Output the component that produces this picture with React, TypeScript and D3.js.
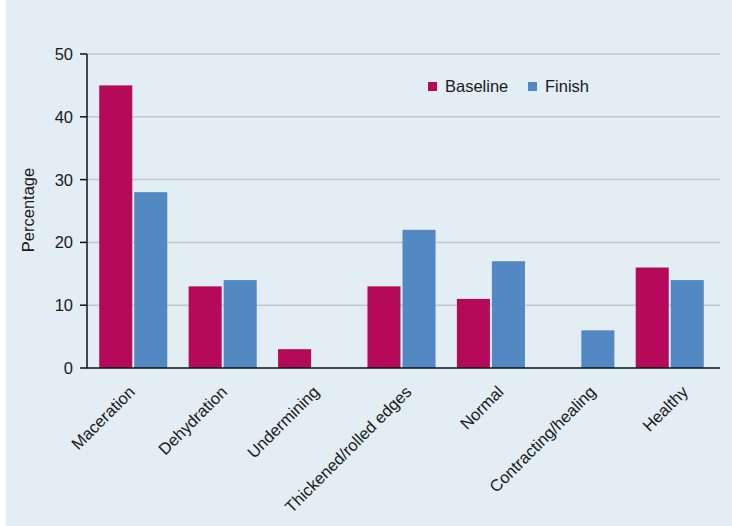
import React from "react";
import * as d3 from "d3";

const categories = [
  "Maceration",
  "Dehydration",
  "Undermining",
  "Thickened/rolled edges",
  "Normal",
  "Contracting/healing",
  "Healthy",
];
const seriesNames = ["Baseline", "Finish"];
const baseline = [45, 13, 3, 13, 11, 0, 16];
const finish = [28, 14, 0, 22, 17, 6, 14];
const yTicks = [0, 10, 20, 30, 40, 50];
const colors = ["#b5095a", "#5389c2"];

export default function App() {
  const W = 732;
  const H = 526;
  const x0 = 87;
  const x1 = 720;
  const yTop = 54;
  const yBot = 368;
  const font = "Liberation Sans, Arial, Helvetica, sans-serif";
  const fs = 16.5;

  const x = d3
    .scaleBand<string>()
    .domain(categories)
    .range([86, 717])
    .paddingInner(0.239)
    .paddingOuter(0.148);
  const xs = d3.scaleBand<string>().domain(seriesNames).range([0, x.bandwidth()]).paddingInner(0.057);
  const xl = d3.scalePoint<string>().domain(categories).range([136, 689]);
  const y = d3.scaleLinear().domain([0, 50]).range([yBot, yTop]);

  const data = categories.map((c, i) => ({ c, vals: [baseline[i], finish[i]] }));

  return (
    <svg width={W} height={H} style={{ position: "absolute", left: 0, top: 0 }} fontFamily={font}>
      <rect x={6} y={0} width={W - 6} height={H} fill="#e2edf4" />
      {yTicks.filter((t) => t > 0).map((t) => (
        <line key={"g" + t} x1={x0} x2={x1} y1={y(t)} y2={y(t)} stroke="#c4c8cc" strokeWidth={1.5} />
      ))}
      {data.map((d) =>
        d.vals.map((v, j) => (
          <rect
            key={d.c + j}
            x={(x(d.c) as number) + (xs(seriesNames[j]) as number)}
            y={y(v)}
            width={xs.bandwidth()}
            height={yBot - y(v)}
            fill={colors[j]}
          />
        ))
      )}
      <line x1={x0} x2={x0} y1={yTop} y2={yBot} stroke="#111" strokeWidth={1.5} />
      <line x1={x0 - 0.75} x2={x1} y1={yBot} y2={yBot} stroke="#111" strokeWidth={1.5} />
      {yTicks.map((t) => (
        <g key={"t" + t}>
          <line x1={x0 - 7} x2={x0} y1={y(t)} y2={y(t)} stroke="#111" strokeWidth={1.5} />
          <text x={x0 - 14} y={y(t)} dy="0.36em" textAnchor="end" fontSize={fs} fill="#1a1a1a">
            {t}
          </text>
        </g>
      ))}
      <text
        transform={`translate(34,${(yTop + yBot) / 2 - 1}) rotate(-90)`}
        textAnchor="middle"
        fontSize={fs}
        fill="#1a1a1a"
      >
        Percentage
      </text>
      {categories.map((c) => (
        <text
          key={"l" + c}
          transform={`translate(${xl(c) as number},${393}) rotate(-45)`}
          textAnchor="end"
          fontSize={fs}
          fill="#1a1a1a"
        >
          {c}
        </text>
      ))}
      {seriesNames.map((s, i) => {
        const lx = [428, 528][i];
        return (
          <g key={"leg" + s}>
            <rect x={lx} y={82} width={9} height={9} fill={colors[i]} />
            <text x={lx + 17} y={92} fontSize={fs} fill="#1a1a1a">
              {s}
            </text>
          </g>
        );
      })}
    </svg>
  );
}
